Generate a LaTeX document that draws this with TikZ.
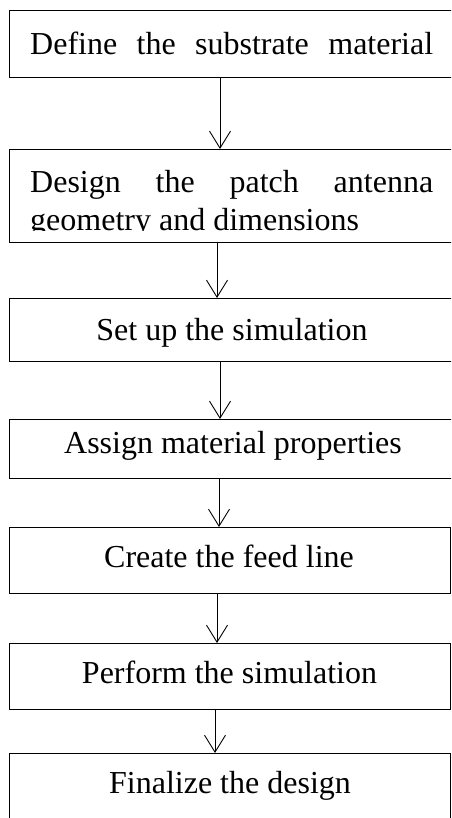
\documentclass[tikz,border=0pt]{standalone}
\usepackage{fontspec}
\setmainfont{Liberation Serif}
\usetikzlibrary{arrows.meta}
\begin{document}
\begin{tikzpicture}[x=1pt,y=-1pt,
  box/.style={draw, line width=0.9pt, inner sep=0pt, anchor=north west},
  lbl/.style={anchor=base, inner sep=0pt, font=\fontsize{32}{37}\selectfont},
  lblw/.style={anchor=base west, inner sep=0pt, font=\fontsize{32}{37}\selectfont},
  arr/.style={line width=0.9pt, -{Straight Barb[length=17pt,width=21pt,line width=0.9pt]}}]
\clip (0,0) rectangle (451,818);
% boxes
\node[box, minimum width=451pt, minimum height=67pt] (b1) at (9,10) {};
\node[box, minimum width=451pt, minimum height=93pt] (b2) at (9,149) {};
\node[box, minimum width=451pt, minimum height=63pt] (b3) at (9,298) {};
\node[box, minimum width=451pt, minimum height=59pt] (b4) at (9,419) {};
\node[box, minimum width=441pt, minimum height=66pt] (b5) at (9,527) {};
\node[box, minimum width=441pt, minimum height=66pt] (b6) at (9,643) {};
\node[box, minimum width=441pt, minimum height=90pt] (b7) at (9,753) {};
% texts
\node[lblw] (t1) at (30,55) {\makebox[403pt][s]{Define the substrate material}};
\node[lblw] (t2a) at (30,193) {\makebox[403pt][s]{Design the patch antenna}};
\begin{scope}
\clip (0,205) rectangle (451,230);
\node[lblw] (t2b) at (30,230) {geometry and dimensions};
\end{scope}
\node[lbl] (t3) at (232,340) {Set up the simulation};
\node[lbl] (t4) at (233,453) {Assign material properties};
\node[lbl] (t5) at (229,567) {Create the feed line};
\node[lbl] (t6) at (229.5,683) {Perform the simulation};
\node[lbl] (t7) at (230,793) {Finalize the design};
% arrows
\draw[arr] ([xshift=211pt]b1.south west) -- ([xshift=211pt]b2.north west);
\draw[arr] ([xshift=208pt]b2.south west) -- ([xshift=208pt]b3.north west);
\draw[arr] ([xshift=211pt]b3.south west) -- ([xshift=211pt]b4.north west);
\draw[arr] ([xshift=210pt]b4.south west) -- ([xshift=210pt]b5.north west);
\draw[arr] ([xshift=208pt]b5.south west) -- ([xshift=208pt]b6.north west);
\draw[arr] ([xshift=206pt]b6.south west) -- ([xshift=206pt]b7.north west);
\end{tikzpicture}
\end{document}
